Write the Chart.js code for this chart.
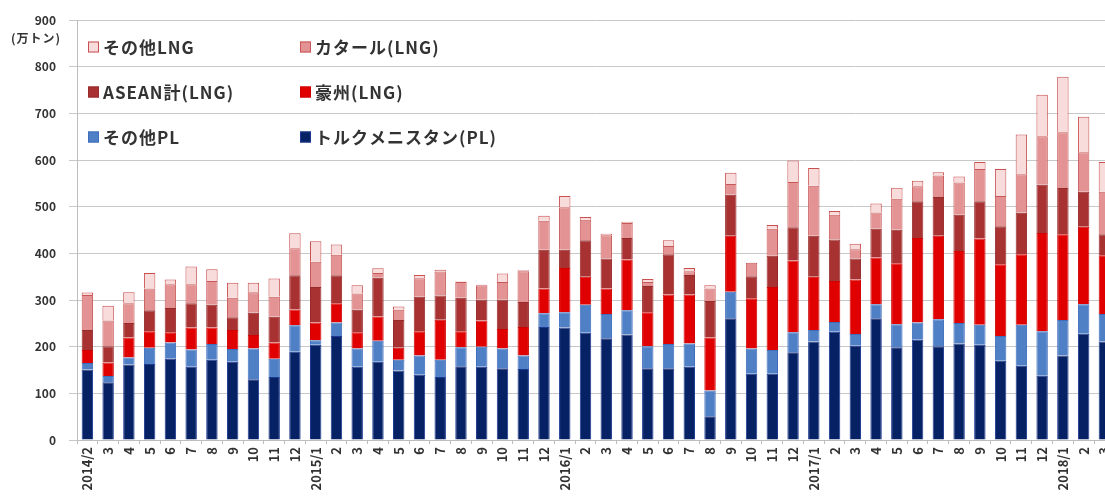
<!DOCTYPE html>
<html>
<head>
<meta charset="utf-8">
<script src="https://cdn.jsdelivr.net/npm/chart.js@4.4.1/dist/chart.umd.min.js"></script>
<style>
  html, body { margin: 0; padding: 0; background: #fff; overflow: hidden; }
  #wrap { position: absolute; left: 0; top: 0; width: 1123px; height: 498px; }
</style>
</head>
<body>
<div id="wrap"><canvas id="c"></canvas></div>
<script>
// 月次ラベル (2014/2 〜 2018/3)
const months = [
  '2014/2','3','4','5','6','7','8','9','10','11','12',
  '2015/1','2','3','4','5','6','7','8','9','10','11','12',
  '2016/1','2','3','4','5','6','7','8','9','10','11','12',
  '2017/1','2','3','4','5','6','7','8','9','10','11','12',
  '2018/1','2','3'
];

// 輸入量 (万トン) — 下から積み上げ順
const turkmenistanPL = [151,124,162,163,174,157,172,168,130,135,189,204,223,157,168,149,140,135,158,157,154,152,242,241,230,218,226,154,154,157,51,261,142,142,188,211,232,202,261,199,215,201,207,204,170,159,138,181,228,211];
const otherPL        = [14,13,15,35,35,37,34,27,66,39,57,10,29,39,45,23,41,37,41,43,42,29,30,33,60,52,52,47,52,50,55,57,54,51,43,25,21,25,30,49,37,58,44,43,53,88,95,76,63,59];
const australiaLNG   = [28,29,43,35,22,47,35,41,29,35,34,38,41,35,52,26,52,86,34,56,42,61,53,95,60,55,109,73,106,105,114,120,108,135,154,114,88,117,100,131,181,179,154,185,154,151,211,184,166,126];
const aseanLNG       = [43,35,31,45,52,52,49,27,48,55,73,76,60,48,83,59,74,52,72,45,63,54,83,39,78,64,46,56,86,42,78,88,47,67,71,88,89,45,62,72,79,83,78,80,81,89,103,99,75,45];
const qatarLNG       = [75,55,42,47,51,41,51,42,44,43,58,54,44,35,10,22,40,51,34,31,38,66,62,91,44,50,32,9,18,8,27,23,29,58,97,107,53,20,35,66,32,46,69,69,65,83,104,120,85,91];
const otherLNG       = [5,32,24,33,10,38,25,32,20,39,32,44,22,18,10,7,7,4,1,1,18,2,11,24,6,3,3,6,12,7,7,24,0,8,46,38,8,12,19,24,12,7,13,15,58,85,89,119,76,64];

// 縦軸目盛
const yTicks = [0,100,200,300,400,500,600,700,800,900];

const seriesNames = ['トルクメニスタン(PL)','その他PL','豪州(LNG)','ASEAN計(LNG)','カタール(LNG)','その他LNG'];
const seriesData  = [turkmenistanPL, otherPL, australiaLNG, aseanLNG, qatarLNG, otherLNG];
const fills   = ['#072264','#4f7fc4','#e00000','#a83232','#e39393','#f8dbdb'];
const borders = ['#1d3a92','#3e6dbd','#cf0000','#972a2a','#c85858','#c85050'];

const FONT = "'Noto Sans CJK JP', 'DejaVu Sans', sans-serif";
Chart.defaults.font.family = FONT;
Chart.defaults.color = '#333';

// 2列×3行の凡例と単位表示
const gridLegend = {
  id: 'gridLegend',
  afterDraw(chart) {
    const ctx = chart.ctx;
    const ds = chart.data.datasets;
    const order = [5, 4, 3, 2, 1, 0];
    const colX = [88, 300];
    const rowY = [47, 92, 137];
    ctx.save();
    ctx.textBaseline = 'middle';
    ctx.textAlign = 'left';
    order.forEach((di, k) => {
      const d = ds[di];
      const bx = colX[k % 2];
      const by = rowY[Math.floor(k / 2)];
      ctx.fillStyle = d.backgroundColor;
      ctx.fillRect(bx, by - 5.5, 11, 11);
      ctx.strokeStyle = d.borderColor;
      ctx.lineWidth = 1;
      ctx.strokeRect(bx + 0.5, by - 5, 10, 10);
      ctx.fillStyle = '#333';
      ctx.font = 'bold 17px ' + FONT;
      ctx.letterSpacing = '1px';
      ctx.fillText(d.label, bx + 15, by + 1);
    });
    ctx.letterSpacing = '1px';
    ctx.font = 'bold 12px ' + FONT;
    ctx.textAlign = 'center';
    ctx.fillText('(万トン)', 36, 38);
    ctx.restore();
  }
};

new Chart(document.getElementById('c'), {
  type: 'bar',
  data: {
    labels: months,
    datasets: seriesNames.map((name, i) => ({
      label: name,
      data: seriesData[i],
      backgroundColor: fills[i],
      borderColor: borders[i],
      borderWidth: 1,
      categoryPercentage: 0.55,
      barPercentage: 1.0
    }))
  },
  options: {
    responsive: true,
    maintainAspectRatio: false,
    animation: false,
    devicePixelRatio: 1,
    layout: { padding: { top: 17, right: 1, left: 0, bottom: 0 } },
    plugins: {
      legend: { display: false },
      tooltip: { enabled: false }
    },
    scales: {
      x: {
        stacked: true,
        afterFit: s => { s.height = 58; },
        grid: { drawOnChartArea: false, drawTicks: true, tickLength: 4, color: '#bdbdbd', offset: true },
        border: { display: true, color: '#bdbdbd' },
        ticks: {
          autoSkip: false,
          minRotation: 90,
          maxRotation: 90,
          padding: 3,
          color: '#333',
          font: { size: 13, weight: 'bold' }
        }
      },
      y: {
        stacked: true,
        min: 0,
        max: 900,
        afterFit: s => { s.width = 77; },
        afterBuildTicks: s => { s.ticks = yTicks.map(v => ({ value: v })); },
        grid: { color: '#c8c8c8', tickLength: 8 },
        border: { display: true, color: '#bdbdbd' },
        ticks: {
          padding: 13,
          color: '#333',
          font: { size: 12, weight: 'bold' }
        }
      }
    }
  },
  plugins: [gridLegend]
});
</script>
</body>
</html>
